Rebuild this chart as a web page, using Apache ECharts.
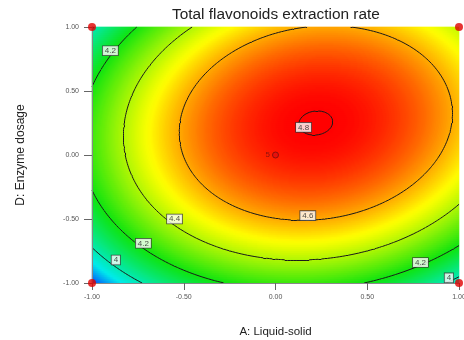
<!DOCTYPE html>
<html>
<head>
<meta charset="utf-8">
<script src="https://cdn.jsdelivr.net/npm/echarts@6/dist/echarts.min.js"></script>
<style>
  html, body { margin: 0; padding: 0; background: #fff; }
  #chart { width: 464px; height: 340px; }
</style>
</head>
<body>
<div id="chart"></div>
<script>
// fitted response surface (coded units)
// terms: intercept, A, D, AD, A^2, D^2
const modelCoef = [4.767, 0.145, 0.162, 0.07, -0.37, -0.355];
const axisTicks = [-1, -0.5, 0, 0.5, 1];
const contourLevels = [4, 4.2, 4.4, 4.6, 4.8];
// where the boxed level labels sit [A, D, text]
const contourLabels = [
  [-0.90, 0.815, '4.2'],
  [0.153, 0.216, '4.8'],
  [0.176, -0.474, '4.6'],
  [-0.55, -0.50, '4.4'],
  [-0.72, -0.69, '4.2'],
  [-0.87, -0.82, '4'],
  [0.79, -0.84, '4.2'],
  [0.945, -0.96, '4']
];
const designPoints = [[-1, -1], [1, -1], [-1, 1], [1, 1], [0, 0]];
const designCounts = [1, 1, 1, 1, 5];

const NX = 367, NY = 128;   // heatmap cells
const NODES = 121;          // contour mesh

function response(a, d) {
  const c = modelCoef;
  return c[0] + c[1] * a + c[2] * d + c[3] * a * d + c[4] * a * a + c[5] * d * d;
}

// heatmap cells
const heat = [];
let vmin = Infinity, vmax = -Infinity;
for (let i = 0; i < NX; i++) {
  const a = -1 + (i + 0.5) * 2 / NX;
  for (let j = 0; j < NY; j++) {
    const d = -1 + (j + 0.5) * 2 / NY;
    const v = response(a, d);
    if (v < vmin) vmin = v;
    if (v > vmax) vmax = v;
    heat.push([i, j, v]);
  }
}
const xCats = Array.from({length: NX}, (_, i) => i);
const yCats = Array.from({length: NY}, (_, j) => j);

// colour ramp: blue -> cyan -> green -> yellow -> red, stops by response value
const rampStops = [[3.78, [0, 40, 255]], [3.93, [0, 235, 235]], [4.2, [16, 228, 16]],
                   [4.5, [255, 255, 0]], [4.8, [255, 0, 0]]];
function rampColor(v) {
  if (v <= rampStops[0][0]) return rampStops[0][1];
  for (let k = 1; k < rampStops.length; k++) {
    if (v <= rampStops[k][0]) {
      const [v0, c0] = rampStops[k - 1], [v1, c1] = rampStops[k];
      const t = (v - v0) / (v1 - v0);
      return c0.map((x, m) => Math.round(x + (c1[m] - x) * t));
    }
  }
  return rampStops[rampStops.length - 1][1];
}
const rampColors = [];
for (let k = 0; k <= 60; k++) {
  const c = rampColor(vmin + (vmax - vmin) * k / 60);
  rampColors.push('rgb(' + c.join(',') + ')');
}

// marching squares on the surface
const step = 2 / (NODES - 1);
const mesh = [];
for (let i = 0; i < NODES; i++) {
  mesh.push([]);
  for (let j = 0; j < NODES; j++) mesh[i].push(response(-1 + i * step, -1 + j * step));
}
function crossing(i1, j1, i2, j2, lvl) {
  const v1 = mesh[i1][j1], v2 = mesh[i2][j2];
  const t = (lvl - v1) / (v2 - v1);
  return [-1 + (i1 + (i2 - i1) * t) * step, -1 + (j1 + (j2 - j1) * t) * step];
}
const contourSegs = [];
contourLevels.forEach(lvl => {
  for (let i = 0; i < NODES - 1; i++) {
    for (let j = 0; j < NODES - 1; j++) {
      const corners = [[i, j], [i + 1, j], [i + 1, j + 1], [i, j + 1]];
      const pts = [];
      for (let k = 0; k < 4; k++) {
        const p = corners[k], q = corners[(k + 1) % 4];
        const s1 = mesh[p[0]][p[1]] - lvl, s2 = mesh[q[0]][q[1]] - lvl;
        if ((s1 < 0) !== (s2 < 0)) pts.push(crossing(p[0], p[1], q[0], q[1], lvl));
      }
      for (let k = 0; k + 1 < pts.length; k += 2) {
        contourSegs.push({coords: [pts[k], pts[k + 1]]});
      }
    }
  }
});

const chart = echarts.init(document.getElementById('chart'));
chart.setOption({
  animation: false,
  textStyle: { fontFamily: 'Liberation Sans, Arial, sans-serif' },
  title: {
    text: 'Total flavonoids extraction rate',
    left: 172,
    top: 7,
    padding: 0,
    textStyle: { fontSize: 15.4, fontWeight: 'normal', color: '#222' }
  },
  grid: [
    { left: 92, right: 5, top: 27, bottom: 57, outerBoundsMode: 'none', containLabel: false },
    { left: 92, right: 5, top: 27, bottom: 57, outerBoundsMode: 'none', containLabel: false }
  ],
  xAxis: [
    { type: 'category', gridIndex: 0, data: xCats, show: false },
    {
      type: 'value', gridIndex: 1, z: 6,
      min: axisTicks[0], max: axisTicks[axisTicks.length - 1], interval: 0.5,
      name: 'A: Liquid-solid', nameLocation: 'middle', nameGap: 43,
      nameTextStyle: { fontSize: 11.5, color: '#222' },
      axisLine: { onZero: false, lineStyle: { color: '#888', width: 1 } },
      axisTick: { length: 7, lineStyle: { color: '#666' } },
      axisLabel: { fontSize: 7, color: '#555', margin: 11, formatter: v => v.toFixed(2) },
      splitLine: { show: false }
    }
  ],
  yAxis: [
    { type: 'category', gridIndex: 0, data: yCats, show: false },
    {
      type: 'value', gridIndex: 1, z: 6,
      min: axisTicks[0], max: axisTicks[axisTicks.length - 1], interval: 0.5,
      name: 'D: Enzyme dosage', nameLocation: 'middle', nameGap: 65,
      nameTextStyle: { fontSize: 12, color: '#222' },
      axisLine: { onZero: false, lineStyle: { color: '#888', width: 1 } },
      axisTick: { length: 8, lineStyle: { color: '#666' } },
      axisLabel: { fontSize: 7, color: '#555', margin: 13, formatter: v => v.toFixed(2) },
      splitLine: { show: false }
    }
  ],
  visualMap: {
    type: 'continuous',
    show: false,
    seriesIndex: 0,
    min: vmin,
    max: vmax,
    inRange: { color: rampColors }
  },
  series: [
    {
      type: 'heatmap',
      xAxisIndex: 0, yAxisIndex: 0,
      data: heat,
      progressive: 0,
      silent: true
    },
    {
      type: 'lines',
      coordinateSystem: 'cartesian2d',
      xAxisIndex: 1, yAxisIndex: 1,
      data: contourSegs,
      silent: true,
      lineStyle: { color: '#1a1a1a', width: 1, opacity: 1 },
      z: 3
    },
    {
      type: 'scatter',
      xAxisIndex: 1, yAxisIndex: 1,
      data: contourLabels,
      symbol: 'rect',
      symbolSize: 1,
      itemStyle: { color: 'transparent' },
      silent: true,
      z: 4,
      label: {
        show: true,
        position: 'inside',
        formatter: p => p.value[2],
        fontSize: 8,
        color: '#222',
        backgroundColor: '#fff',
        borderColor: '#333',
        borderWidth: 0.8,
        padding: [1, 2, 0, 2]
      }
    },
    {
      type: 'scatter',
      xAxisIndex: 1, yAxisIndex: 1,
      clip: false,
      silent: true,
      z: 7,
      data: designPoints.map((p, k) => ({
        value: p,
        symbolSize: designCounts[k] > 1 ? 6 : 8,
        itemStyle: designCounts[k] > 1
          ? { color: '#e01010', borderColor: '#7a0c0c', borderWidth: 1 }
          : { color: '#e00000' },
        label: designCounts[k] > 1
          ? { show: true, position: 'left', distance: 2, formatter: String(designCounts[k]),
              fontSize: 8, color: '#6e1010' }
          : { show: false }
      }))
    }
  ]
});
</script>
</body>
</html>
